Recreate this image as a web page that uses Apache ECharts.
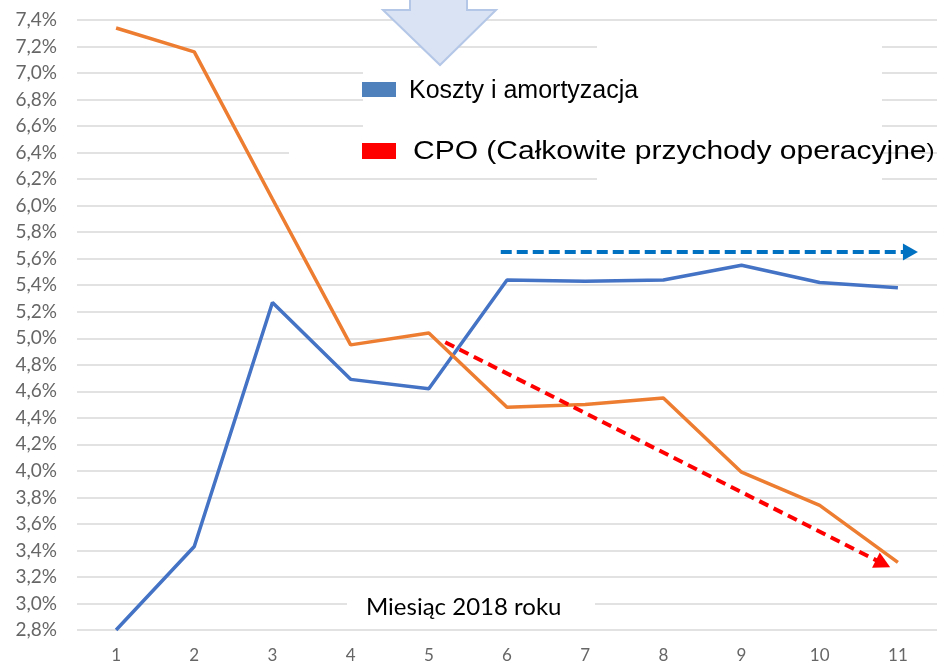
<!DOCTYPE html>
<html>
<head>
<meta charset="utf-8">
<script src="https://cdn.jsdelivr.net/npm/echarts@6/dist/echarts.min.js"></script>
<style>
  html, body { margin: 0; padding: 0; background: #fff; }
  #chart { width: 937px; height: 664px; }
</style>
</head>
<body>
<div id="chart"></div>
<script>
// dane (w %)
var months = [1, 2, 3, 4, 5, 6, 7, 8, 9, 10, 11];
var koszty = [2.80, 3.43, 5.27, 4.69, 4.62, 5.44, 5.43, 5.44, 5.55, 5.42, 5.38];
var cpo = [7.34, 7.16, 6.05, 4.95, 5.04, 4.48, 4.50, 4.55, 3.99, 3.74, 3.31];
// strzalki trendu: [miesiac, %] (koniec = srodek grotu)
var trendKoszty = [[5.92, 5.65], [11.16, 5.65]];
var trendCpo = [[5.21, 4.97], [10.81, 3.30]];

var nameKoszty = 'Koszty i amortyzacja';
var nameCpo = 'CPO (Całkowite przychody operacyjne)';

function pairs(xs, ys) {
    return xs.map(function (x, i) { return [x, ys[i]]; });
}

var chart = echarts.init(document.getElementById('chart'));
var option = {
    animation: false,
    backgroundColor: '#fff',
    grid: { left: 77, top: 20, width: 866, height: 610 },
    xAxis: {
        type: 'value',
        min: 0.5,
        max: 11.5,
        axisLine: { show: false },
        axisTick: { show: false },
        splitLine: { show: false },
        axisLabel: {
            customValues: months,
            margin: 17,
            color: '#666',
            fontFamily: 'Lato',
            fontSize: 17
        }
    },
    yAxis: {
        type: 'value',
        min: 2.8,
        max: 7.4,
        interval: 0.2,
        axisLine: { show: false },
        axisTick: { show: false },
        splitLine: { lineStyle: { color: '#d9d9d9', width: 1.5 } },
        axisLabel: {
            margin: 20,
            color: '#666',
            fontFamily: 'Lato',
            fontSize: 19,
            formatter: function (v) {
                return v.toFixed(1).replace('.', ',') + '%';
            }
        }
    },
    graphic: [
        // biale tla pod legenda
        { type: 'rect', z: 1, silent: true, shape: { x: 597, y: 35, width: 285, height: 150 }, style: { fill: '#fff' } },
        { type: 'rect', z: 1, silent: true, shape: { x: 363, y: 60, width: 234, height: 110 }, style: { fill: '#fff' } },
        { type: 'rect', z: 1, silent: true, shape: { x: 289, y: 140, width: 74, height: 25 }, style: { fill: '#fff' } },
        // strzalka w dol
        {
            type: 'polygon', z: 3, silent: true,
            shape: { points: [[410, -5], [467, -5], [467, 10], [496, 10], [440, 65], [383, 10], [410, 10]] },
            style: { fill: '#dae3f3', stroke: '#b4c7e7', lineWidth: 2 }
        },
        // legenda
        { type: 'rect', z: 3, silent: true, shape: { x: 362, y: 82, width: 34, height: 15 }, style: { fill: '#4f81bd' } },
        {
            type: 'text', z: 3, silent: true, x: 409, y: 91,
            style: { text: nameKoszty, fill: '#000', font: '25px "Liberation Sans"', verticalAlign: 'middle' }
        },
        { type: 'rect', z: 3, silent: true, shape: { x: 362, y: 143, width: 34, height: 16 }, style: { fill: '#ff0000' } },
        {
            type: 'text', z: 3, silent: true, x: 413, y: 152, scaleX: 1.2,
            style: {
                text: nameCpo.slice(0, -1) + '{s|)}',
                fill: '#000', font: '25px "Liberation Sans"', verticalAlign: 'middle',
                rich: { s: { font: '20px "Liberation Sans"', fill: '#000' } }
            }
        },
        // podpis osi
        { type: 'rect', z: 1, silent: true, shape: { x: 347, y: 582, width: 248, height: 46 }, style: { fill: '#fff' } },
        {
            type: 'text', z: 3, silent: true, x: 366, y: 607,
            style: { text: 'Miesiąc 2018 roku', fill: '#000', font: '24px Lato', verticalAlign: 'middle' }
        }
    ],
    series: [
        {
            name: nameKoszty,
            type: 'line',
            z: 4,
            data: pairs(months, koszty),
            showSymbol: false,
            lineStyle: { color: '#4472c4', width: 3.5 },
            itemStyle: { color: '#4472c4' },
            markLine: {
                silent: true,
                symbol: ['none', 'triangle'],
                symbolSize: [17, 15],
                label: { show: false },
                itemStyle: { color: '#0070c0' },
                lineStyle: { color: '#0070c0', width: 4, type: [11, 5] },
                data: [[{ coord: trendKoszty[0] }, { coord: trendKoszty[1] }]]
            }
        },
        {
            name: nameCpo,
            type: 'line',
            z: 4,
            data: pairs(months, cpo),
            showSymbol: false,
            lineStyle: { color: '#ed7d31', width: 3.5 },
            itemStyle: { color: '#ed7d31' },
            markLine: {
                silent: true,
                symbol: ['none', 'triangle'],
                symbolSize: [17, 16],
                label: { show: false },
                itemStyle: { color: '#ff0000' },
                lineStyle: { color: '#ff0000', width: 4, type: [10, 6] },
                data: [[{ coord: trendCpo[0] }, { coord: trendCpo[1] }]]
            }
        }
    ]
};
chart.setOption(option);
</script>
</body>
</html>
